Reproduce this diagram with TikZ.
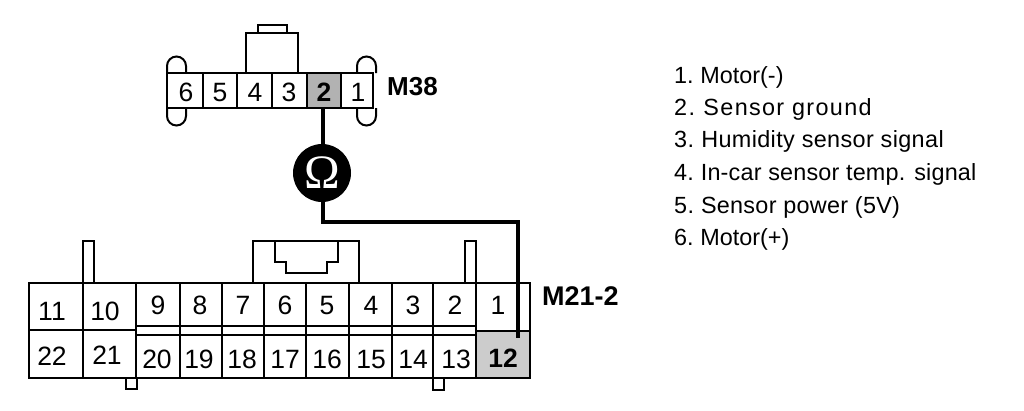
\documentclass[tikz,border=0pt]{standalone}
\usepackage{fontspec}
\setmainfont{Liberation Sans}
\newfontfamily\omegafont{Liberation Serif}
\newcommand{\legendrow}[3]{\addfontfeature{LetterSpace=#1}#2\hspace{-2pt} #3}
\tikzset{
  outline/.style={draw=black,line width=2pt,line join=miter},
  wire/.style={draw=black,line width=3.4pt},
  pin/.style={inner sep=0pt,text height=18pt,text depth=0pt,font=\fontsize{26.5}{28}\selectfont},
  boldpin/.style={inner sep=0pt,text height=18pt,text depth=0pt,font=\bfseries\fontsize{26.5}{28}\selectfont},
  conn/.style={inner sep=0pt,font=\bfseries\fontsize{26}{28}\selectfont,anchor=west},
  legend/.style={inner sep=0pt,font=\fontsize{23.4}{26}\selectfont,anchor=base west,text=black},
  shadeA/.style={fill=black!30},
  shadeB/.style={fill=black!20},
}
\begin{document}
\begin{tikzpicture}[x=1pt,y=-1pt]
\useasboundingbox (0,0) rectangle (1024,410);
% M38 connector
\draw[outline] (167,73) -- (167,66) arc[start angle=180,end angle=360,radius=9.5] -- (186,73);
\draw[outline] (167,108) -- (167,116) arc[start angle=180,end angle=0,radius=9.5] -- (186,108);
\draw[outline] (357,73) -- (357,66) arc[start angle=180,end angle=360,radius=9.5] -- (376,73);
\draw[outline] (357,108) -- (357,116) arc[start angle=180,end angle=0,radius=9.5] -- (376,108);
\draw[outline] (246,73) -- (246,33) -- (298,33) -- (298,73);
\draw[outline] (258,33) -- (258,25) -- (287,25) -- (287,33);
\fill[shadeA] (307,73) rectangle (341,108);
\draw[outline] (167,73) rectangle (373,108);
\foreach \x in {203,237,272,307,341} \draw[outline] (\x,73) -- (\x,108);
\node[pin] (a6) at (186,92) {6};
\node[pin] (a5) at (220,92) {5};
\node[pin] (a4) at (255,92) {4};
\node[pin] (a3) at (289,92) {3};
\node[boldpin] (a2) at (324,92) {2};
\node[pin] (a1) at (358,92) {1};
\node[conn] (m38) at (387,87) {M38};
% M21-2 connector
\draw[outline] (83,283) -- (83,241) -- (94,241) -- (94,283);
\draw[outline] (465,283) -- (465,241) -- (476,241) -- (476,283);
\draw[outline] (126,378) -- (126,389) -- (137,389) -- (137,378);
\draw[outline] (433,378) -- (433,390) -- (444,390) -- (444,378);
\draw[outline] (253,283) -- (253,241) -- (359,241) -- (359,283);
\draw[outline] (275,241) -- (275,262) -- (286,262) -- (286,273) -- (327,273) -- (327,262) -- (338,262) -- (338,241);
\fill[shadeB] (476,331) rectangle (530,378);
\draw[outline] (29,283) rectangle (530,378);
\draw[outline] (29,330) -- (136,330);
\draw[outline] (476,331) -- (530,331);
\draw[outline] (136,326) -- (476,326);
\draw[outline] (136,335) -- (476,335);
\foreach \x in {83,136,180,222,264,306,349,392,433,476} \draw[outline] (\x,283) -- (\x,378);
\foreach \n/\x/\y in {11/52/311,10/105/311,9/158/305,8/200/305,7/243/305,6/285/305,5/327/305,4/371/305,3/413/305,2/455/305,1/498/305,22/52/356,21/107/355,20/157/359,19/199/359,18/242/359,17/285/359,16/327/359,15/371/359,14/413/359,13/456/359}
  \node[pin] (b\n) at (\x,\y) {\n};
\node[boldpin] (b12) at (503,358) {12};
\node[conn,font=\bfseries\fontsize{27}{28}\selectfont] (m21) at (542,296) {M21-2};
% meter and wires
\node[circle,fill=black,minimum size=58pt,inner sep=0pt,text=white,font=\omegafont\fontsize{48}{48}\selectfont] (ohm) at (322,173) {Ω};
\coordinate (top) at (323,108);
\coordinate (bend1) at (323,222);
\coordinate (bend2) at (518,222);
\coordinate (end) at (518,338);
\draw[wire] (top) -- (ohm.north -| top);
\draw[wire] (ohm.south -| top) -- (bend1) -- (bend2) -- (end);
% legend
\node[legend] (l1) at (674,83) {\legendrow{0}{1.}{Motor(-)}};
\node[legend] (l2) at (674,115) {\legendrow{5.7}{2.}{Sensor ground}};
\node[legend] (l3) at (674,147) {\legendrow{1.6}{3.}{Humidity sensor signal}};
\node[legend] (l4) at (674,180) {\legendrow{0.8}{4.}{In-car sensor temp. signal}};
\node[legend] (l5) at (674,213) {\legendrow{1.2}{5.}{Sensor power (5V)}};
\node[legend] (l6) at (674,245) {\legendrow{0}{6.}{Motor(+)}};
\end{tikzpicture}
\end{document}
